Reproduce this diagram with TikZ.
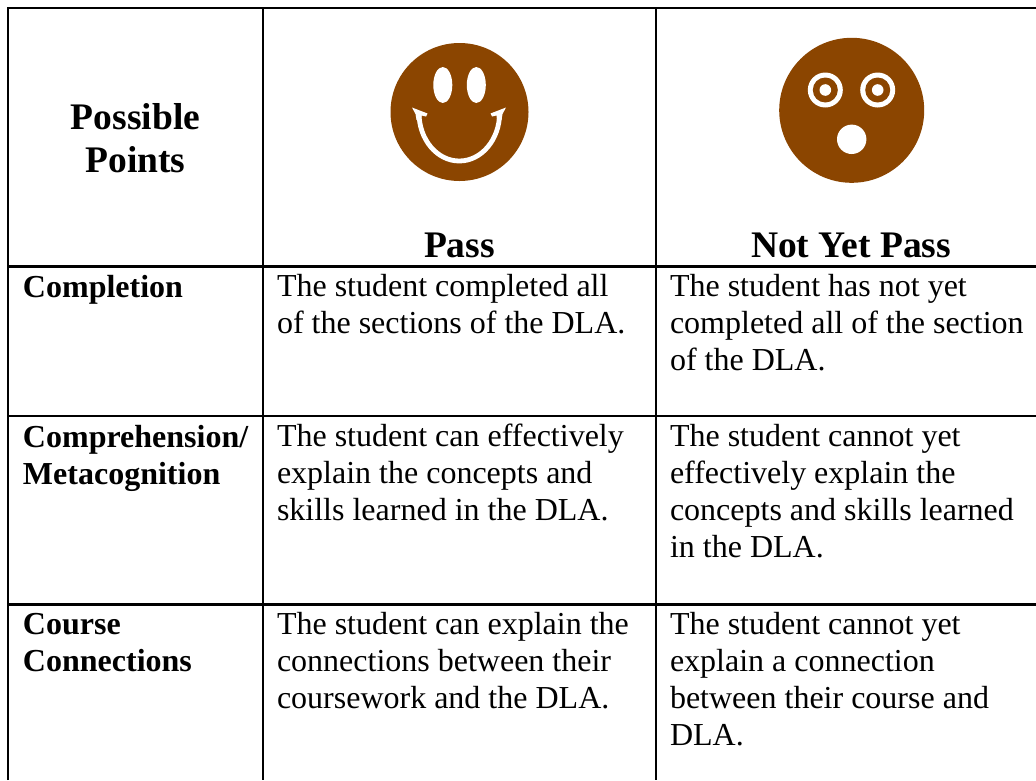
\documentclass[tikz,border=0pt]{standalone}
\usepackage{fontspec}
\setmainfont{Liberation Serif}
\definecolor{facebrown}{HTML}{8B4500}
\tikzset{
  rule/.style={draw=black,line width=2.4pt},
  cell/.style={anchor=base west,inner sep=0pt,outer sep=0pt,align=left,font=\fontsize{32}{37}\selectfont},
  hcell/.style={anchor=base,inner sep=0pt,outer sep=0pt,align=center,font=\fontsize{37.5}{42.7}\selectfont\bfseries},
  lab/.style={cell,font=\fontsize{32}{37}\selectfont\bfseries},
  face/.style={fill=facebrown,draw=none},
  hole/.style={fill=white,draw=none}
}
\begin{document}
\begin{tikzpicture}[x=1pt,y=-1pt]
\useasboundingbox (0,0) rectangle (1036,780);
\fill[white] (0,0) rectangle (1036,780);
% grid
\draw[rule] (8,780) -- (8,8) -- (1036,8);
\draw[rule] (263,8) -- (263,780);
\draw[rule] (656,8) -- (656,780);
\draw[rule] (8,266.5) -- (1036,266.5);
\draw[rule] (8,416) -- (1036,416);
\draw[rule] (8,604.5) -- (1036,604.5);
% header (anchor = base of last line)
\node[hcell] (hpoints) at (135.5,172) {Possible\\Points};
\node[hcell] (hpass) at (459.5,257) {Pass};
\node[hcell] (hnot) at (851,257) {Not Yet Pass};
% row labels
\node[lab] (l1) at (23,297) {Completion};
\node[lab] (l2) at (23,484) {Comprehension/\\Metacognition};
\node[lab] (l3) at (23,671) {Course\\Connections};
% pass column
\node[cell] (p1) at (277,333.5) {The student completed all\\of the sections of the DLA.};
\node[cell] (p2) at (277,520.5) {The student can effectively\\explain the concepts and\\skills learned in the DLA.};
\node[cell] (p3) at (277,708) {The student can explain the\\connections between their\\coursework and the DLA.};
% not yet column
\node[cell] (n1) at (670,370.5) {The student has not yet\\completed all of the section\\of the DLA.};
\node[cell] (n2) at (670,557.5) {The student cannot yet\\effectively explain the\\concepts and skills learned\\in the DLA.};
\node[cell] (n3) at (670,745) {The student cannot yet\\explain a connection\\between their course and\\DLA.};
% smiling face
\fill[face] (459.5,112) circle (69);
\fill[hole] (442.8,85) ellipse (9.5 and 18);
\fill[hole] (476.3,85) ellipse (9.5 and 18);
\draw[white,line width=4.8pt] (419,113) arc[start angle=180,end angle=0,x radius=40.3,y radius=48];
\fill[hole] (412,107.5) -- (427.5,113.5) -- (426,116.5) -- (421.5,115.5) -- (421,120) -- (416.5,120) -- (415.5,114) -- cycle;
\fill[hole] (506,107.5) -- (490.5,113.5) -- (492,116.5) -- (496.5,115.5) -- (497,120) -- (501.5,120) -- (502.5,114) -- cycle;
% surprised face
\fill[face] (851.7,110.3) circle (72.5);
\foreach \ex in {825.3,877.7}{
  \fill[hole] (\ex,90) circle (17.5);
  \fill[face] (\ex,90) circle (12.5);
  \fill[hole] (\ex,90) circle (5.8);
}
\fill[hole] (851.7,139.3) circle (14.7);
\end{tikzpicture}
\end{document}
